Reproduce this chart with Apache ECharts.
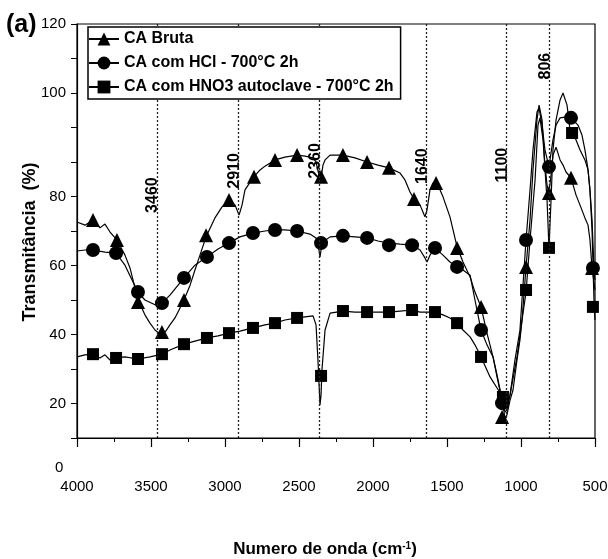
<!DOCTYPE html>
<html>
<head>
<meta charset="utf-8">
<script src="https://cdn.jsdelivr.net/npm/echarts@6/dist/echarts.min.js"></script>
<style>
  html, body { margin: 0; background: #fff; }
  #chart { width: 608px; height: 559px; }
</style>
</head>
<body>
<div id="chart"></div>
<script>
// FTIR spectra: wavenumber (cm-1), transmittance as plotted
const seriesNames = ['CA Bruta', 'CA com HCl - 700°C 2h', 'CA com HNO3 autoclave - 700°C 2h'];

const bruta = [
  [4000, 62.6], [3946, 61.7], [3892, 63.2], [3845, 60.9], [3811, 62.0], [3777, 59.7], [3730, 57.4],
  [3676, 53.0], [3642, 49.3], [3588, 40.0], [3541, 35.7], [3507, 33.3], [3473, 31.3], [3432, 29.9],
  [3400, 31.0], [3372, 32.8], [3338, 34.8], [3277, 40.0], [3236, 44.3], [3203, 48.7], [3169, 53.0],
  [3128, 58.3], [3068, 63.8], [3020, 67.0], [2973, 69.0], [2932, 67.5], [2905, 64.6], [2885, 67.5],
  [2865, 71.9], [2811, 75.4], [2763, 77.7], [2730, 78.8], [2662, 80.6], [2595, 81.4], [2513, 82.0],
  [2459, 81.7], [2405, 81.2], [2385, 80.0], [2365, 76.2], [2358, 73.9], [2351, 75.4], [2338, 79.1],
  [2324, 80.6], [2290, 82.0], [2203, 82.0], [2122, 81.2], [2040, 80.0], [1966, 79.1], [1892, 78.3],
  [1817, 76.8], [1784, 74.8], [1750, 71.3], [1723, 69.3], [1682, 67.5], [1649, 64.1], [1635, 66.1],
  [1615, 71.9], [1595, 73.9], [1574, 73.9], [1547, 71.9], [1527, 69.9], [1480, 64.1], [1432, 55.4],
  [1392, 51.0], [1344, 46.7], [1311, 42.3], [1270, 38.0], [1230, 30.4], [1189, 23.5], [1162, 17.7],
  [1128, 11.0], [1108, 5.8], [1095, 6.7], [1074, 11.0], [1054, 13.9], [1027, 22.6], [1007, 28.4],
  [993, 34.2], [966, 49.6], [939, 63.2], [919, 77.7], [892, 92.2], [878, 96.5], [858, 92.2],
  [838, 79.1], [824, 73.3], [811, 71.0], [797, 76.2], [784, 82.0], [763, 84.3], [736, 80.6],
  [716, 79.1], [696, 77.1], [662, 75.4], [628, 70.4], [601, 67.5], [568, 63.8], [547, 61.7],
  [534, 57.4], [520, 49.3], [500, 42.9]
];

const hcl = [
  [4000, 54.2], [3946, 54.5], [3892, 54.5], [3811, 53.9], [3736, 53.6], [3676, 50.1], [3628, 45.8],
  [3588, 42.3], [3541, 40.0], [3473, 38.6], [3426, 39.1], [3372, 41.4], [3277, 46.4], [3203, 50.1],
  [3122, 52.5], [3047, 54.8], [2973, 56.5], [2899, 58.3], [2811, 59.4], [2730, 60.0], [2662, 60.3],
  [2595, 60.3], [2513, 60.0], [2426, 59.1], [2385, 58.0], [2365, 54.5], [2358, 52.5], [2351, 54.5],
  [2338, 56.8], [2290, 58.3], [2203, 58.6], [2122, 58.3], [2040, 58.0], [1966, 57.1], [1892, 56.5],
  [1817, 56.2], [1736, 55.9], [1682, 54.5], [1649, 52.2], [1635, 51.0], [1615, 53.0], [1581, 55.1],
  [1527, 53.0], [1480, 51.0], [1432, 49.6], [1392, 48.7], [1344, 47.2], [1311, 40.0], [1270, 31.3],
  [1230, 27.0], [1189, 23.5], [1162, 18.3], [1128, 11.0], [1115, 8.1], [1095, 9.6], [1074, 12.5],
  [1041, 22.6], [1007, 31.3], [966, 57.4], [939, 71.9], [919, 83.5], [892, 94.5], [878, 95.7],
  [858, 90.7], [838, 83.5], [811, 78.6], [784, 86.4], [763, 90.7], [736, 92.8], [703, 93.0],
  [662, 92.8], [615, 90.7], [588, 87.8], [568, 83.5], [547, 77.7], [534, 71.9], [520, 63.2],
  [507, 49.3], [500, 45.8]
];

const hno3 = [
  [4000, 23.5], [3946, 24.1], [3892, 24.3], [3845, 23.2], [3811, 24.1], [3777, 22.6], [3736, 23.2],
  [3676, 23.5], [3588, 22.9], [3507, 23.5], [3426, 24.3], [3372, 25.5], [3277, 27.2], [3203, 28.1],
  [3122, 29.0], [3047, 29.6], [2973, 30.4], [2899, 31.0], [2811, 31.9], [2730, 32.8], [2662, 33.3],
  [2595, 34.2], [2513, 34.8], [2459, 35.1], [2405, 35.4], [2385, 32.8], [2372, 22.6], [2358, 9.6],
  [2351, 12.5], [2345, 19.7], [2324, 31.3], [2290, 36.2], [2203, 36.8], [2122, 36.5], [2040, 36.5],
  [1966, 36.5], [1892, 36.5], [1817, 36.8], [1736, 37.1], [1682, 36.5], [1649, 36.5], [1581, 36.5],
  [1527, 35.7], [1480, 34.8], [1432, 33.3], [1392, 31.3], [1344, 29.3], [1311, 27.0], [1270, 23.5],
  [1209, 17.7], [1162, 14.5], [1122, 11.9], [1108, 7.5], [1095, 8.1], [1074, 12.5], [1027, 23.5],
  [993, 34.2], [966, 42.3], [939, 57.4], [905, 74.8], [885, 90.7], [872, 92.8], [851, 86.4],
  [824, 69.0], [811, 55.1], [797, 69.0], [784, 83.5], [763, 92.2], [736, 98.0], [716, 100.0],
  [689, 96.5], [669, 89.3], [655, 88.4], [628, 86.4], [601, 83.5], [568, 80.6], [547, 77.7],
  [534, 71.9], [520, 60.3], [507, 40.0], [500, 34.2]
];

// marker points drawn on each curve
const brutaMarks = [
  [3892, 63.2], [3730, 57.4], [3588, 39.4], [3426, 30.7], [3277, 40.0], [3128, 58.8], [2973, 69.0],
  [2804, 75.7], [2662, 80.6], [2513, 82.0], [2351, 75.7], [2203, 82.0], [2040, 80.0], [1892, 78.3],
  [1723, 69.3], [1574, 73.9], [1432, 55.1], [1270, 38.0], [1128, 6.1], [966, 49.6], [811, 71.0],
  [662, 75.4], [520, 49.3]
];
const hclMarks = [
  [3892, 54.5], [3736, 53.6], [3588, 42.3], [3426, 39.1], [3277, 46.4], [3122, 52.5], [2973, 56.5],
  [2811, 59.4], [2662, 60.3], [2513, 60.0], [2351, 56.5], [2203, 58.6], [2040, 58.0], [1892, 55.9],
  [1736, 55.9], [1581, 55.1], [1432, 49.6], [1270, 31.3], [1128, 10.1], [966, 57.4], [811, 78.6],
  [662, 92.8], [514, 49.3]
];
const hno3Marks = [
  [3892, 24.3], [3736, 23.2], [3588, 22.9], [3426, 24.3], [3277, 27.2], [3122, 29.0], [2973, 30.4],
  [2811, 31.9], [2662, 33.3], [2513, 34.8], [2351, 18.0], [2203, 36.8], [2040, 36.5], [1892, 36.5],
  [1736, 37.1], [1581, 36.5], [1432, 33.3], [1270, 23.5], [1122, 11.9], [966, 42.9], [811, 55.1],
  [655, 88.4], [514, 38.0]
];

// band positions marked with dotted lines
const peaks = [3460, 2910, 2360, 1640, 1100, 806];

// tick labels as printed on the left axis (axis value -> text)
const yTickLabels = { 120: '120', 100: '100', 70: '80', 50: '60', 30: '40', 10: '20' };

const FONT = '"Liberation Sans", Arial, Helvetica, sans-serif';
const peakLabelY = [70.4, 77.4, 80.3, 78.8, 79.1, 107.8];

const chart = echarts.init(document.getElementById('chart'));
const symbols = ['triangle', 'circle', 'rect'];
const curves = [bruta, hcl, hno3];
const marks = [brutaMarks, hclMarks, hno3Marks];

const series = [];
curves.forEach((d, i) => {
  series.push({
    name: seriesNames[i],
    type: 'line',
    data: d,
    symbol: symbols[i],
    showSymbol: false,
    lineStyle: { color: '#000', width: 1.2 },
    itemStyle: { color: '#000' },
    z: 3
  });
});
marks.forEach((d, i) => {
  series.push({
    name: seriesNames[i],
    type: 'scatter',
    data: d,
    symbol: symbols[i],
    symbolSize: i === 2 ? 12 : 14,
    itemStyle: { color: '#000', opacity: 1 },
    z: 4
  });
});
// dotted band lines and their labels
series.push({
  type: 'scatter',
  silent: true,
  symbolSize: 0,
  itemStyle: { opacity: 1 },
  data: peaks.map((p, i) => [p, peakLabelY[i]]),
  label: {
    show: true,
    position: 'inside',
    rotate: 90,
    offset: [0, -4],
    formatter: p => String(peaks[p.dataIndex]),
    fontFamily: FONT,
    fontWeight: 'bold',
    fontSize: 16,
    color: '#000'
  },
  markLine: {
    silent: true,
    symbol: 'none',
    label: { show: false },
    lineStyle: { color: '#222', width: 1.3, type: [2, 2] },
    data: peaks.map(p => ({ xAxis: p }))
  },
  z: 2
});

const option = {
  backgroundColor: '#fff',
  animation: false,
  grid: {
    left: 77, right: 13, top: 24, bottom: 121,
    outerBoundsMode: 'none',
    show: true, borderColor: '#000', borderWidth: 1.2
  },
  legend: {
    data: seriesNames,
    orient: 'vertical',
    left: 88,
    top: 27,
    padding: [4, 7, 4, 0],
    itemWidth: 30,
    itemHeight: 16,
    itemGap: 8,
    backgroundColor: '#fff',
    borderColor: '#000',
    borderWidth: 1.5,
    textStyle: { fontFamily: FONT, fontWeight: 'bold', fontSize: 16, color: '#000' },
    z: 10
  },
  xAxis: {
    type: 'value',
    min: 500,
    max: 4000,
    interval: 500,
    inverse: true,
    name: 'Numero de onda (cm{sup|-1})',
    nameLocation: 'middle',
    nameGap: 103,
    nameMoveOverlap: false,
    nameTextStyle: {
      fontFamily: FONT, fontWeight: 'bold', fontSize: 17, color: '#000',
      padding: [0, 22, 0, 0],
      rich: { sup: { fontFamily: FONT, fontWeight: 'bold', fontSize: 10, verticalAlign: 'top', color: '#000' } }
    },
    axisLine: { lineStyle: { color: '#000', width: 1.2 } },
    axisTick: { length: 9, lineStyle: { color: '#000', width: 1.2 } },
    minorTick: { show: true, splitNumber: 2, length: 4, lineStyle: { color: '#000', width: 1 } },
    axisLabel: { margin: 41, fontFamily: FONT, fontSize: 15, color: '#000', formatter: v => String(v) },
    splitLine: { show: false }
  },
  yAxis: {
    type: 'value',
    min: 0,
    max: 120,
    interval: 10,
    name: 'Transmitância  (%)',
    nameLocation: 'middle',
    nameGap: 38,
    nameMoveOverlap: false,
    nameTextStyle: {
      fontFamily: FONT, fontWeight: 'bold', fontSize: 18, color: '#000',
      padding: [0, 22, 0, 0]
    },
    axisLine: { lineStyle: { color: '#000', width: 1.2 } },
    axisTick: { length: 6, lineStyle: { color: '#000', width: 1 } },
    axisLabel: {
      margin: 11, fontFamily: FONT, fontSize: 15, color: '#000',
      formatter: v => yTickLabels[v] || ''
    },
    splitLine: { show: false }
  },
  graphic: [
    { type: 'text', left: 6, top: 13, style: { text: '(a)', font: 'bold 25px ' + FONT, fill: '#000' } },
    { type: 'text', left: 55, top: 460, style: { text: '0', font: '15px ' + FONT, fill: '#000' } }
  ],
  series: series
};

chart.setOption(option);
window.addEventListener('resize', () => chart.resize());
</script>
</body>
</html>
